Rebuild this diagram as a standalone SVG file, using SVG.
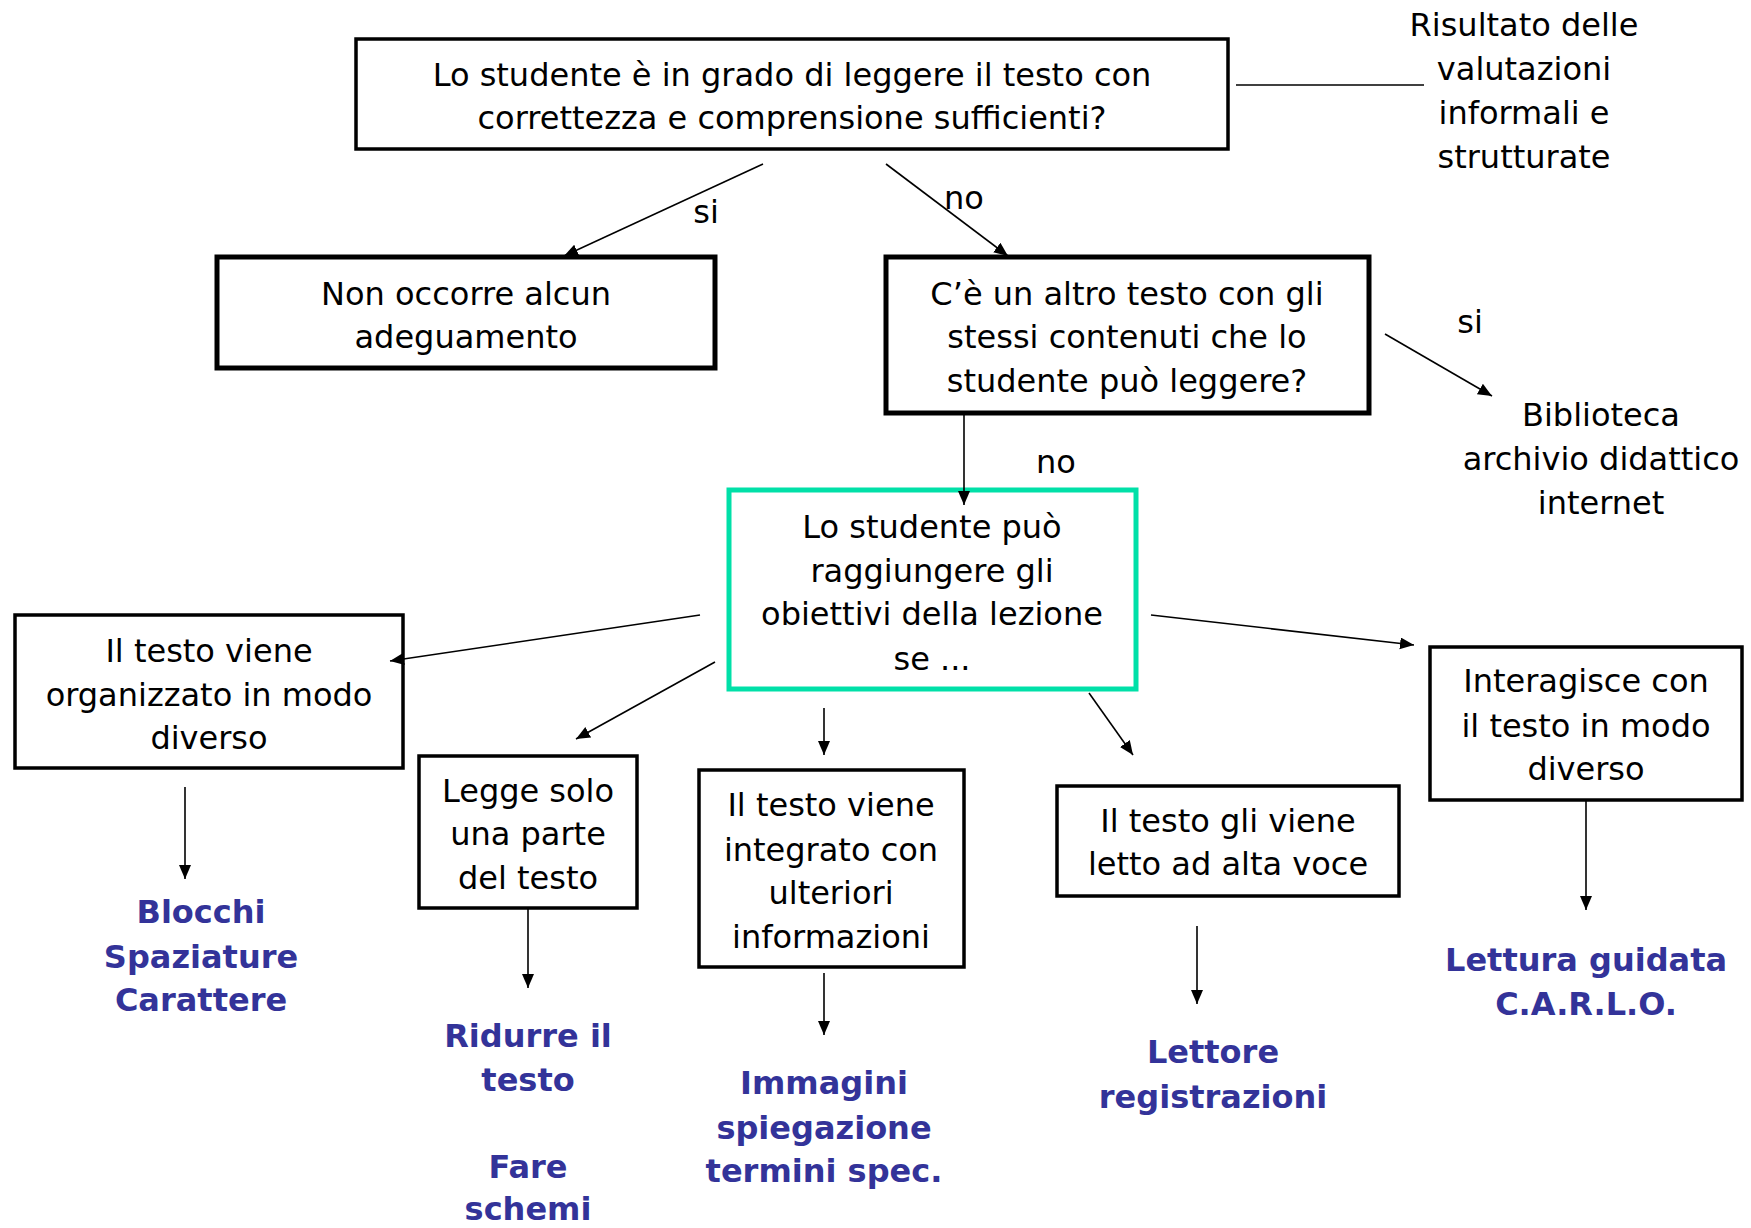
<svg xmlns="http://www.w3.org/2000/svg" width="1751" height="1228" viewBox="0 0 1751 1228">
<style>
.t{font-family:"DejaVu Sans",Verdana,sans-serif;font-size:32px;fill:#000;text-anchor:middle}
.b{font-family:"DejaVu Sans",Verdana,sans-serif;font-size:32px;font-weight:bold;fill:#333399;text-anchor:middle}
.box{fill:#fff;stroke:#000;stroke-width:3.5}
.thick{fill:#fff;stroke:#000;stroke-width:5}
.green{fill:#fff;stroke:#00E0A8;stroke-width:5}
.c{stroke:#000;stroke-width:1.6;fill:none}
.a{stroke:#000;stroke-width:1.6;fill:none;marker-end:url(#ah)}
</style>
<defs>
<marker id="ah" markerUnits="userSpaceOnUse" markerWidth="16" markerHeight="14" refX="14" refY="6" orient="auto">
<path d="M0,0 L14,6 L0,12 Z" fill="#000"/>
</marker>
</defs>
<rect width="1751" height="1228" fill="#fff"/>
<g id="q1">
<rect class="box" x="356" y="39" width="872" height="110"/>
<text class="t" x="792" y="86">Lo studente è in grado di leggere il testo con</text>
<text class="t" x="792" y="129">correttezza e comprensione sufficienti?</text>
</g>
<g id="risultato">
<text class="t" x="1524" y="36">Risultato delle</text>
<text class="t" x="1524" y="80">valutazioni</text>
<text class="t" x="1524" y="124">informali e</text>
<text class="t" x="1524" y="168">strutturate</text>
</g>
<g id="nonoccorre">
<rect class="thick" x="217" y="257" width="498" height="111"/>
<text class="t" x="466" y="305">Non occorre alcun</text>
<text class="t" x="466" y="348">adeguamento</text>
</g>
<g id="q2">
<rect class="thick" x="886" y="257" width="483" height="156"/>
<text class="t" x="1127" y="305">C’è un altro testo con gli</text>
<text class="t" x="1127" y="348">stessi contenuti che lo</text>
<text class="t" x="1127" y="392">studente può leggere?</text>
</g>
<g id="biblioteca">
<text class="t" x="1601" y="426">Biblioteca</text>
<text class="t" x="1601" y="470">archivio didattico</text>
<text class="t" x="1601" y="514">internet</text>
</g>
<g id="q3">
<rect class="green" x="729" y="490" width="407" height="199"/>
<text class="t" x="932" y="538">Lo studente può</text>
<text class="t" x="932" y="582">raggiungere gli</text>
<text class="t" x="932" y="625">obiettivi della lezione</text>
<text class="t" x="932" y="670">se ...</text>
</g>
<g id="organizzato">
<rect class="box" x="15" y="615" width="388" height="153"/>
<text class="t" x="209" y="662">Il testo viene</text>
<text class="t" x="209" y="706">organizzato in modo</text>
<text class="t" x="209" y="749">diverso</text>
</g>
<g id="blocchi">
<text class="b" x="201" y="923">Blocchi</text>
<text class="b" x="201" y="968">Spaziature</text>
<text class="b" x="201" y="1011">Carattere</text>
</g>
<g id="legge">
<rect class="box" x="419" y="756" width="218" height="152"/>
<text class="t" x="528" y="802">Legge solo</text>
<text class="t" x="528" y="845">una parte</text>
<text class="t" x="528" y="889">del testo</text>
</g>
<g id="ridurre">
<text class="b" x="528" y="1047">Ridurre il</text>
<text class="b" x="528" y="1091">testo</text>
<text class="b" x="528" y="1178">Fare</text>
<text class="b" x="528" y="1220">schemi</text>
</g>
<g id="integrato">
<rect class="box" x="699" y="770" width="265" height="197"/>
<text class="t" x="831" y="816">Il testo viene</text>
<text class="t" x="831" y="861">integrato con</text>
<text class="t" x="831" y="904">ulteriori</text>
<text class="t" x="831" y="948">informazioni</text>
</g>
<g id="immagini">
<text class="b" x="824" y="1094">Immagini</text>
<text class="b" x="824" y="1139">spiegazione</text>
<text class="b" x="824" y="1182">termini spec.</text>
</g>
<g id="letto">
<rect class="box" x="1057" y="786" width="342" height="110"/>
<text class="t" x="1228" y="832">Il testo gli viene</text>
<text class="t" x="1228" y="875">letto ad alta voce</text>
</g>
<g id="lettore">
<text class="b" x="1213" y="1063">Lettore</text>
<text class="b" x="1213" y="1108">registrazioni</text>
</g>
<g id="interagisce">
<rect class="box" x="1430" y="647" width="312" height="153"/>
<text class="t" x="1586" y="692">Interagisce con</text>
<text class="t" x="1586" y="737">il testo in modo</text>
<text class="t" x="1586" y="780">diverso</text>
</g>
<g id="lettura">
<text class="b" x="1586" y="971">Lettura guidata</text>
<text class="b" x="1586" y="1015">C.A.R.L.O.</text>
</g>
<g id="connectors">
<line class="c" x1="1236" y1="85" x2="1424" y2="85"/>
<line class="a" x1="763" y1="164" x2="564" y2="256"/>
<line class="a" x1="886" y1="164" x2="1008" y2="256"/>
<line class="a" x1="1385" y1="334" x2="1492" y2="396"/>
<line class="a" x1="964" y1="413" x2="964" y2="505"/>
<line class="a" x1="700" y1="615" x2="390" y2="661"/>
<line class="a" x1="185" y1="787" x2="185" y2="879"/>
<line class="a" x1="715" y1="662" x2="576" y2="739"/>
<line class="a" x1="528" y1="908" x2="528" y2="988"/>
<line class="a" x1="824" y1="708" x2="824" y2="755"/>
<line class="a" x1="824" y1="973" x2="824" y2="1035"/>
<line class="a" x1="1089" y1="693" x2="1133" y2="755"/>
<line class="a" x1="1197" y1="926" x2="1197" y2="1004"/>
<line class="a" x1="1151" y1="615" x2="1414" y2="645"/>
<line class="a" x1="1586" y1="800" x2="1586" y2="910"/>
<text class="t" x="706" y="223">si</text>
<text class="t" x="964" y="209">no</text>
<text class="t" x="1470" y="333">si</text>
<text class="t" x="1056" y="473">no</text>
</g>
</svg>
